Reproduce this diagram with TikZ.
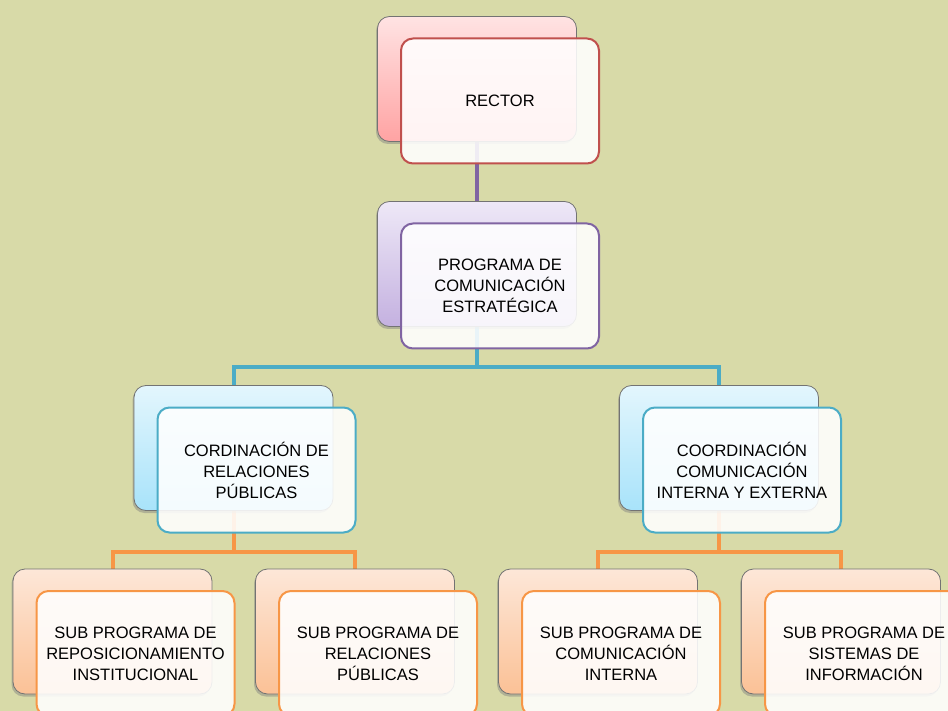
\documentclass[tikz,border=0pt]{standalone}
\usepackage{fontspec}
\setmainfont{Liberation Sans}
\usetikzlibrary{shadows,calc}
\pgfdeclarelayer{canvas}
\pgfdeclarelayer{links}
\pgfsetlayers{canvas,links,main}

\definecolor{bgolive}{HTML}{D8DAA8}
\definecolor{redline}{HTML}{C0504D}
\definecolor{purpleline}{HTML}{8064A2}
\definecolor{tealline}{HTML}{4BACC6}
\definecolor{orangeline}{HTML}{F79646}

\tikzset{
  backcard/.style={draw=black!55, line width=0.8pt, rounded corners=12pt,
    minimum width=199pt, minimum height=125pt, inner sep=0pt,
    drop shadow={shadow xshift=-1.5pt, shadow yshift=-2.5pt, opacity=0.45}},
  redcard/.style={backcard, top color=HTML-FFE3E3, bottom color=HTML-FFA3A3},
  purplecard/.style={backcard, top color=HTML-EEE8F7, bottom color=HTML-C4B1E0},
  bluecard/.style={backcard, top color=HTML-E3F6FD, bottom color=HTML-A8E3FA},
  orangecard/.style={backcard, top color=HTML-FDE7D8, bottom color=HTML-FBC196},
  frontcard/.style={line width=2pt, rounded corners=12pt, fill=white, fill opacity=0.88,
    text opacity=1, minimum width=198pt, minimum height=125pt, inner sep=2pt,
    align=center, font=\fontsize{16.5}{21}\selectfont},
  link/.style={line width=4pt}
}
\definecolor{HTML-FFE3E3}{HTML}{FFE3E3}
\definecolor{HTML-FFA3A3}{HTML}{FFA3A3}
\definecolor{HTML-EEE8F7}{HTML}{EEE8F7}
\definecolor{HTML-C4B1E0}{HTML}{C4B1E0}
\definecolor{HTML-E3F6FD}{HTML}{E3F6FD}
\definecolor{HTML-A8E3FA}{HTML}{A8E3FA}
\definecolor{HTML-FDE7D8}{HTML}{FDE7D8}
\definecolor{HTML-FBC196}{HTML}{FBC196}

\begin{document}
\begin{tikzpicture}[x=1pt,y=-1pt]
  \begin{pgfonlayer}{canvas}
    \fill[bgolive] (0,0) rectangle (948,711);
  \end{pgfonlayer}
  \useasboundingbox (0,0) rectangle (948,711);

  % level 1
  \node[redcard] (rectorB) at (477,79) {};
  \node[frontcard, draw=redline] (rector) at ($(rectorB)+(23,22)$) {RECTOR};

  % level 2
  \node[purplecard] (progB) at (477,264) {};
  \node[frontcard, draw=purpleline] (prog) at ($(progB)+(23,22)$)
    {PROGRAMA DE\\COMUNICACIÓN\\ESTRATÉGICA};

  % level 3
  \node[bluecard] (relB) at (233.5,448) {};
  \node[frontcard, draw=tealline] (rel) at ($(relB)+(23,22)$)
    {CORDINACIÓN DE\\RELACIONES\\PÚBLICAS};
  \node[bluecard] (comB) at (719,448) {};
  \node[frontcard, draw=tealline] (com) at ($(comB)+(23,22)$)
    {COORDINACIÓN\\COMUNICACIÓN\\INTERNA Y EXTERNA};

  % level 4
  \node[orangecard] (subaB) at (112.5,631.5) {};
  \node[frontcard, draw=orangeline] (suba) at ($(subaB)+(23,22)$)
    {SUB PROGRAMA DE\\REPOSICIONAMIENTO\\INSTITUCIONAL};
  \node[orangecard] (subbB) at (355,631.5) {};
  \node[frontcard, draw=orangeline] (subb) at ($(subbB)+(23,22)$)
    {SUB PROGRAMA DE\\RELACIONES\\PÚBLICAS};
  \node[orangecard] (subcB) at (598,631.5) {};
  \node[frontcard, draw=orangeline] (subc) at ($(subcB)+(23,22)$)
    {SUB PROGRAMA DE\\COMUNICACIÓN\\INTERNA};
  \node[orangecard] (subdB) at (841,631.5) {};
  \node[frontcard, draw=orangeline] (subd) at ($(subdB)+(23,22)$)
    {SUB PROGRAMA DE\\SISTEMAS DE\\INFORMACIÓN};

  % junction rows of the connectors
  \coordinate (row2) at (0,367);
  \coordinate (row3) at (0,552);

  \begin{pgfonlayer}{links}
    \draw[link, purpleline] (rectorB.center) -- (progB.center);
    \draw[link, tealline, line join=miter]
      (relB.center) -- (relB.center |- row2) -- (comB.center |- row2) -- (comB.center);
    \draw[link, tealline] (progB.center) -- (progB.center |- row2);
    \draw[link, orangeline, line join=miter]
      (subaB.center) -- (subaB.center |- row3) -- (subbB.center |- row3) -- (subbB.center);
    \draw[link, orangeline] (relB.center) -- (relB.center |- row3);
    \draw[link, orangeline, line join=miter]
      (subcB.center) -- (subcB.center |- row3) -- (subdB.center |- row3) -- (subdB.center);
    \draw[link, orangeline] (comB.center) -- (comB.center |- row3);
  \end{pgfonlayer}
\end{tikzpicture}
\end{document}
